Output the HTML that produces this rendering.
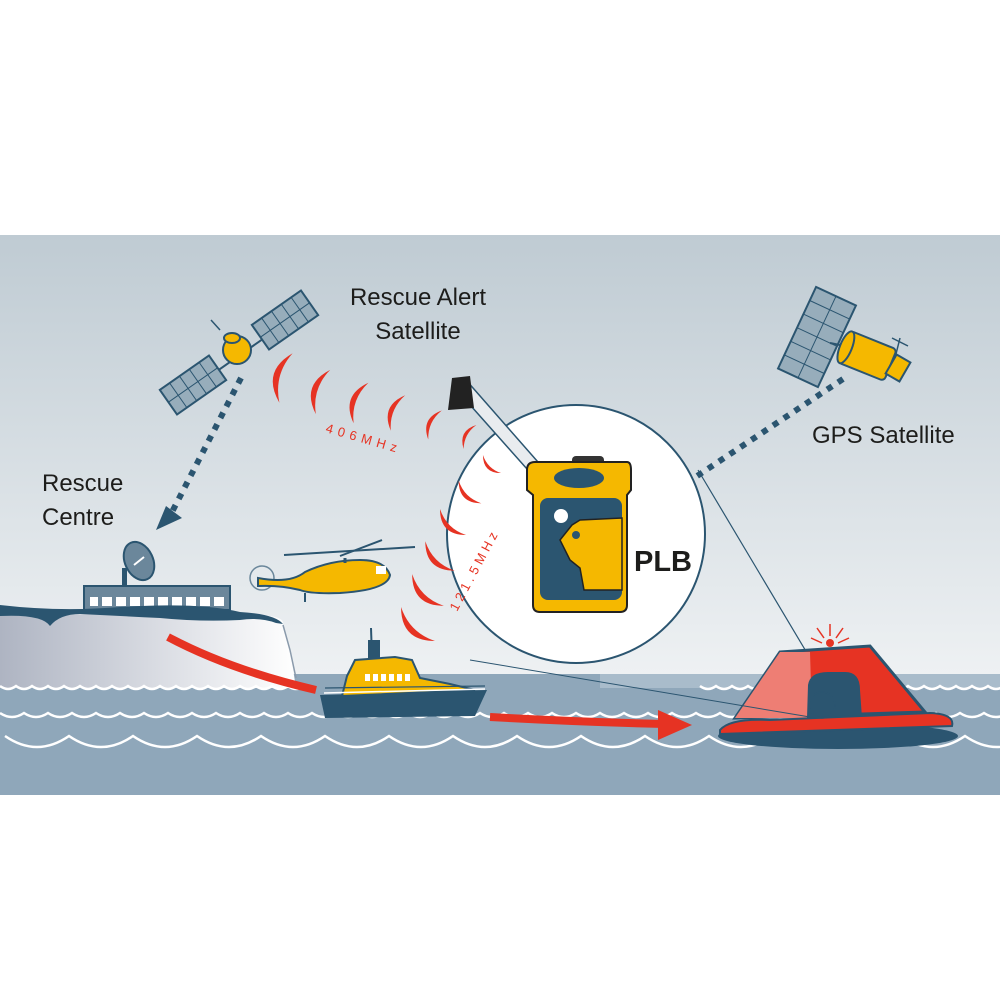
<!DOCTYPE html>
<html><head><meta charset="utf-8"><style>
html,body{margin:0;padding:0;background:#fff;}
svg{display:block;}
text{font-family:"Liberation Sans",sans-serif;}
</style></head><body>
<svg width="1000" height="1000" viewBox="0 0 1000 1000" xmlns="http://www.w3.org/2000/svg">
<defs>
<linearGradient id="sky" x1="0" y1="0" x2="0" y2="1">
<stop offset="0" stop-color="#bfcbd3"/><stop offset="1" stop-color="#eef1f3"/>
</linearGradient>
<linearGradient id="cliff" x1="0" y1="0" x2="1" y2="0">
<stop offset="0" stop-color="#aeb4c2"/><stop offset="1" stop-color="#ffffff"/>
</linearGradient>
<path id="cr" d="M0 -16 Q-16 0 0 16 Q-8 0 0 -16Z" fill="#e63323"/>
</defs>
<rect x="0" y="235" width="1000" height="440" fill="url(#sky)"/>
<rect x="0" y="674" width="1000" height="121" fill="#8fa7ba"/>
<rect x="600" y="674" width="400" height="14" fill="#a9bccb"/>

<!-- cliff -->
<path d="M0 610 Q60 618 120 612 Q200 606 270 616 Q285 618 283 625 L290 650 L296 688 L0 688 Z" fill="url(#cliff)"/>
<path d="M283 625 L290 650 L296 678" fill="none" stroke="#8a9aab" stroke-width="1.5"/>
<!-- building -->
<rect x="84" y="586" width="146" height="24" fill="#6b879b" stroke="#2b5570" stroke-width="2"/>
<g fill="#fff">
<rect x="90" y="597" width="8" height="9"/><rect x="102" y="597" width="10" height="9"/><rect x="116" y="597" width="10" height="9"/><rect x="130" y="597" width="10" height="9"/><rect x="144" y="597" width="10" height="9"/><rect x="158" y="597" width="10" height="9"/><rect x="172" y="597" width="10" height="9"/><rect x="186" y="597" width="10" height="9"/><rect x="200" y="597" width="10" height="9"/><rect x="214" y="597" width="10" height="9"/></g>
<path d="M0 605 Q60 612 120 607 Q200 602 240 612 Q275 614 283 624 L276 623 Q260 617 240 620 Q200 622 160 618 Q120 616 80 614 Q60 614 50 626 Q42 614 0 616 Z" fill="#2b5570"/>
<!-- dish -->
<rect x="122" y="568" width="5" height="18" fill="#2b5570"/>
<ellipse cx="139" cy="561" rx="14" ry="20" transform="rotate(-25 139 561)" fill="#6b879b" stroke="#2b5570" stroke-width="2"/>
<line x1="134" y1="565" x2="144" y2="557" stroke="#fff" stroke-width="2"/>

<!-- waves -->
<g fill="none" stroke="#fff" stroke-width="2.5">
<path d="M0 686 q8 6 16 0 q8 6 16 0 q8 6 16 0 q8 6 16 0 q8 6 16 0 q8 6 16 0 q8 6 16 0 q8 6 16 0 q8 6 16 0 q8 6 16 0 q8 6 16 0 q8 6 16 0 q8 6 16 0 q8 6 16 0 q8 6 16 0 q8 6 16 0 q8 6 16 0 q8 6 16 0 q8 6 16 0"/>
<path d="M700 686 q8 6 16 0 q8 6 16 0 q8 6 16 0 q8 6 16 0 q8 6 16 0 q8 6 16 0 q8 6 16 0 q8 6 16 0 q8 6 16 0 q8 6 16 0 q8 6 16 0 q8 6 16 0 q8 6 16 0 q8 6 16 0 q8 6 16 0 q8 6 16 0 q8 6 16 0 q8 6 16 0 q8 6 16 0"/>
<path d="M0 713 q12 8 24 0 q12 8 24 0 q12 8 24 0 q12 8 24 0 q12 8 24 0 q12 8 24 0 q12 8 24 0 q12 8 24 0 q12 8 24 0 q12 8 24 0 q12 8 24 0 q12 8 24 0 q12 8 24 0 q12 8 24 0 q12 8 24 0 q12 8 24 0 q12 8 24 0 q12 8 24 0 q12 8 24 0 q12 8 24 0 q12 8 24 0 q12 8 24 0 q12 8 24 0 q12 8 24 0 q12 8 24 0 q12 8 24 0 q12 8 24 0 q12 8 24 0 q12 8 24 0 q12 8 24 0 q12 8 24 0 q12 8 24 0 q12 8 24 0 q12 8 24 0 q12 8 24 0 q12 8 24 0 q12 8 24 0 q12 8 24 0 q12 8 24 0 q12 8 24 0 q12 8 24 0 q12 8 24 0"/>
<path d="M5 736 q32 22 64 0 q32 22 64 0 q32 22 64 0 q32 22 64 0 q32 22 64 0 q32 22 64 0 q32 22 64 0 q32 22 64 0 q32 22 64 0 q32 22 64 0 q32 22 64 0 q32 22 64 0 q32 22 64 0 q32 22 64 0 q32 22 64 0 q32 22 64 0"/>
</g>

<!-- red arrows -->
<path d="M168 637 Q230 670 316 690" fill="none" stroke="#e63323" stroke-width="8"/>
<path d="M490 717 Q580 722 665 724" fill="none" stroke="#e63323" stroke-width="8"/>
<polygon points="658,710 692,725 658,740" fill="#e63323"/>

<!-- helicopter -->
<g>
<circle cx="262" cy="578" r="12" fill="#e4e9ec" stroke="#6b879b" stroke-width="1.5"/>
<path d="M258 578 Q290 584 305 572 Q330 560 360 560 Q385 560 390 575 Q388 590 340 593 Q310 594 300 590 Q280 585 258 586 Z" fill="#f5b800" stroke="#2b5570" stroke-width="2"/>
<line x1="284" y1="555" x2="415" y2="547" stroke="#2b5570" stroke-width="2"/>
<line x1="340" y1="556" x2="382" y2="540" stroke="#2b5570" stroke-width="2"/>
<line x1="345" y1="558" x2="345" y2="563" stroke="#2b5570" stroke-width="3"/>
<line x1="305" y1="593" x2="305" y2="602" stroke="#2b5570" stroke-width="2"/>
<rect x="376" y="566" width="10" height="8" fill="#fff"/>
</g>

<!-- lifeboat -->
<g>
<path d="M320 695 L487 690 L475 716 L325 718 Z" fill="#2b5570"/>
<path d="M342 696 L347 676 L355 660 L395 657 L412 660 L420 678 L450 684 L475 690 Z" fill="#f5b800" stroke="#2b5570" stroke-width="2"/>
<rect x="365" y="674" width="5" height="7" fill="#fff"/><rect x="373" y="674" width="5" height="7" fill="#fff"/><rect x="381" y="674" width="5" height="7" fill="#fff"/><rect x="389" y="674" width="5" height="7" fill="#fff"/><rect x="397" y="674" width="5" height="7" fill="#fff"/><rect x="405" y="674" width="5" height="7" fill="#fff"/>
<line x1="371" y1="628" x2="372" y2="658" stroke="#2b5570" stroke-width="2"/>
<rect x="368" y="640" width="12" height="18" fill="#2b5570"/>
<path d="M325 688 L485 686" stroke="#2b5570" stroke-width="1.2"/>
<line x1="324" y1="693" x2="485" y2="689" stroke="#fff" stroke-width="1.5"/>
</g>

<!-- satellite 1 -->
<g stroke="#2b5570" stroke-width="2">
<line x1="190" y1="390" x2="290" y2="320"/>
<g transform="rotate(-35 193 385)"><rect x="163" y="370" width="60" height="30" fill="#97adbb"/>
<path d="M175 370v30M187 370v30M199 370v30M211 370v30M163 385h60" fill="none" stroke-width="1"/></g>
<g transform="rotate(-35 285 320)"><rect x="255" y="305" width="60" height="30" fill="#97adbb"/>
<path d="M267 305v30M279 305v30M291 305v30M303 305v30M255 320h60" fill="none" stroke-width="1"/></g>
<circle cx="237" cy="350" r="14" fill="#f5b800"/>
<ellipse cx="232" cy="338" rx="8" ry="5" fill="#f5b800"/>
<line x1="220" y1="330" x2="211" y2="320" stroke-width="1.5"/>
</g>
<!-- gps satellite -->
<g stroke="#2b5570" stroke-width="2">
<g transform="rotate(25 817 337)"><rect x="795" y="292" width="44" height="90" fill="#97adbb"/>
<path d="M817 292v90M795 307h44M795 322h44M795 337h44M795 352h44M795 367h44" fill="none" stroke-width="1"/></g>
<line x1="830" y1="343" x2="845" y2="346"/>
<g transform="rotate(22 870 357)"><rect x="842" y="340" width="50" height="34" rx="4" fill="#f5b800"/><ellipse cx="844" cy="357" rx="6" ry="17" fill="#f5b800"/></g>
<rect x="890" y="357" width="16" height="22" transform="rotate(30 898 368)" fill="#f5b800"/>
<line x1="895" y1="358" x2="900" y2="338" stroke-width="1.5"/><line x1="892" y1="338" x2="908" y2="346" stroke-width="1.5"/>
</g>

<!-- dotted lines -->
<g stroke="#2b5570" stroke-width="6" stroke-dasharray="6 7" fill="none">
<line x1="241" y1="378" x2="172" y2="512"/>
<line x1="843" y1="379" x2="664" y2="498"/>
</g>
<polygon points="156,530 166,506 182,518" fill="#2b5570"/>
<polygon points="634,517 650,494 658,517" fill="#2b5570"/>

<!-- raft -->
<g>
<line x1="698" y1="470" x2="835" y2="700" stroke="#2b5570" stroke-width="1.2"/>
<path d="M780 652 L870 646 L925 712 L735 718 Z" fill="#e63323" stroke="#2b5570" stroke-width="3"/>
<path d="M780 652 L810 652 L812 718 L735 718 Z" fill="#ee7e74"/>
<path d="M807 718 L808 685 Q810 672 828 672 L845 672 Q860 672 860 690 L862 718 Z" fill="#2b5570"/>
<ellipse cx="838" cy="736" rx="120" ry="13" fill="#2b5570"/>
<path d="M720 730 Q730 718 770 720 L930 713 Q955 714 952 726 L720 734Z" fill="#e63323" stroke="#2b5570" stroke-width="2"/>
<circle cx="822" cy="705" r="13" fill="none" stroke="#2b5570" stroke-width="1.5"/>
<circle cx="830" cy="643" r="4" fill="#e63323"/>
<g stroke="#e63323" stroke-width="1.5"><line x1="830" y1="636" x2="830" y2="624"/><line x1="836" y1="638" x2="843" y2="628"/><line x1="824" y1="638" x2="817" y2="628"/><line x1="838" y1="643" x2="849" y2="638"/><line x1="822" y1="643" x2="811" y2="638"/></g>
</g>
<line x1="470" y1="660" x2="810" y2="717" stroke="#2b5570" stroke-width="1"/>

<!-- circle -->
<circle cx="576" cy="534" r="129" fill="#fff" stroke="#2b5570" stroke-width="2"/>
<!-- antenna -->
<path d="M455 388 L466 380 L545 470 L535 478 Z" fill="#e9ecef" stroke="#2b5570" stroke-width="1.5"/>
<path d="M448 410 L452 378 L470 376 L474 408 Z" fill="#222"/>
<!-- PLB -->
<rect x="572" y="456" width="32" height="10" rx="4" fill="#333"/>
<path d="M535 462 L627 462 Q631 462 631 470 L631 490 L627 495 L627 605 Q627 612 620 612 L540 612 Q533 612 533 605 L533 495 L527 490 L527 470 Q527 462 535 462Z" fill="#f5b800" stroke="#222" stroke-width="2"/>
<ellipse cx="579" cy="478" rx="25" ry="10" fill="#2b5570"/>
<rect x="540" y="498" width="82" height="102" rx="8" fill="#2b5570"/>
<path d="M580 520 L622 518 L622 590 L584 590 L580 568 L570 560 L560 540 L572 525 Z" fill="#f5b800" stroke="#222" stroke-width="1.5"/>
<circle cx="561" cy="516" r="7" fill="#fff"/>
<circle cx="576" cy="535" r="4" fill="#2b5570"/>

<!-- red arcs -->
<use href="#cr" transform="translate(286 378) rotate(15) scale(1.6)"/>
<use href="#cr" transform="translate(323 392) rotate(18) scale(1.45)"/>
<use href="#cr" transform="translate(361 403) rotate(20) scale(1.35)"/>
<use href="#cr" transform="translate(398 413) rotate(22) scale(1.2)"/>
<use href="#cr" transform="translate(435 425) rotate(25) scale(1.0)"/>
<use href="#cr" transform="translate(470 437) rotate(28) scale(0.85)"/>
<use href="#cr" transform="translate(492 464) rotate(-45) scale(0.8)"/>
<use href="#cr" transform="translate(470 492) rotate(-45) scale(1.0)"/>
<use href="#cr" transform="translate(453 522) rotate(-45) scale(1.15)"/>
<use href="#cr" transform="translate(440 556) rotate(-45) scale(1.3)"/>
<use href="#cr" transform="translate(428 590) rotate(-45) scale(1.4)"/>
<use href="#cr" transform="translate(418 624) rotate(-45) scale(1.5)"/>
<text x="325" y="432" font-size="13" fill="#e63323" letter-spacing="5" transform="rotate(16 325 432)">406MHz</text>
<text x="457" y="612" font-size="13" fill="#e63323" letter-spacing="4" transform="rotate(-62 457 612)">121.5MHz</text>

<!-- labels -->
<g fill="#1d1d1b" font-size="24">
<text x="418" y="305" text-anchor="middle">Rescue Alert</text>
<text x="418" y="339" text-anchor="middle">Satellite</text>
<text x="42" y="491">Rescue</text>
<text x="42" y="525">Centre</text>
<text x="812" y="443">GPS Satellite</text>
</g>
<text x="634" y="571" font-size="29" font-weight="bold" fill="#1d1d1b">PLB</text>
</svg>
</body></html>
